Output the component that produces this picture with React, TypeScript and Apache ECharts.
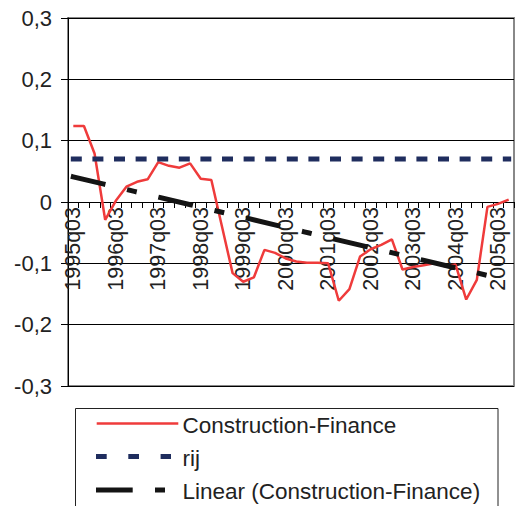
import React, { useEffect, useRef } from "react";
import * as echarts from "echarts";

const categories: string[] = [
  "1995q03", "1995q04",
  "1996q01", "1996q02", "1996q03", "1996q04",
  "1997q01", "1997q02", "1997q03", "1997q04",
  "1998q01", "1998q02", "1998q03", "1998q04",
  "1999q01", "1999q02", "1999q03", "1999q04",
  "2000q01", "2000q02", "2000q03", "2000q04",
  "2001q01", "2001q02", "2001q03", "2001q04",
  "2002q01", "2002q02", "2002q03", "2002q04",
  "2003q01", "2003q02", "2003q03", "2003q04",
  "2004q01", "2004q02", "2004q03", "2004q04",
  "2005q01", "2005q02", "2005q03", "2005q04",
];

const constructionFinance: number[] = [
  0.124, 0.124, 0.079, -0.029, 0.002, 0.025, 0.033, 0.037, 0.065, 0.059,
  0.056, 0.063, 0.038, 0.036, -0.040, -0.116, -0.130, -0.123, -0.078, -0.083,
  -0.092, -0.097, -0.099, -0.099, -0.100, -0.161, -0.142, -0.089, -0.077, -0.070,
  -0.061, -0.110, -0.106, -0.103, -0.100, -0.105, -0.102, -0.159, -0.127, -0.008,
  -0.003, 0.004,
];

const rij: number[] = [
  0.07, 0.07, 0.07, 0.07, 0.07, 0.07, 0.07, 0.07, 0.07, 0.07,
  0.07, 0.07, 0.07, 0.07, 0.07, 0.07, 0.07, 0.07, 0.07, 0.07,
  0.07, 0.07, 0.07, 0.07, 0.07, 0.07, 0.07, 0.07, 0.07, 0.07,
  0.07, 0.07, 0.07, 0.07, 0.07, 0.07, 0.07, 0.07, 0.07, 0.07,
  0.07, 0.07,
];

// Linear trend: value at first and last category
const trendIndex: number[] = [0, 41];
const trendValue: number[] = [0.041, -0.128];

const seriesNames: string[] = [
  "Construction-Finance",
  "rij",
  "Linear (Construction-Finance)",
];

const FONT = 'Arial, "Liberation Sans", sans-serif';
const RED = "#ef3b3b";
const NAVY = "#1f2d5e";
const BLACK = "#141414";

const GRID_TOP = 18;
const GRID_HEIGHT = 368;

export default function App() {
  const ref = useRef<HTMLDivElement>(null);

  useEffect(() => {
    if (!ref.current) return;
    const chart = echarts.init(ref.current, undefined, { renderer: "svg" });

    const legendRows = [423.5, 456.5, 490];
    const textStyle = (t: string, y: number) => ({
      type: "text",
      silent: true,
      style: {
        text: t,
        x: 182.5,
        y: y + 1.5,
        fill: "#222",
        font: `22.5px ${FONT}`,
        fontSize: 22.5,
        fontFamily: FONT,
        align: "left",
        verticalAlign: "middle",
        textAlign: "left",
        textVerticalAlign: "middle",
      },
    });

    chart.setOption({
      animation: false,
      backgroundColor: "#ffffff",
      grid: {
        left: 68,
        right: 2,
        top: GRID_TOP,
        height: GRID_HEIGHT,
        show: true,
        borderColor: "#888888",
        borderWidth: 2,
        backgroundColor: "transparent",
      },
      xAxis: {
        type: "category",
        data: categories,
        boundaryGap: true,
        position: "bottom",
        offset: -GRID_HEIGHT / 2,
        axisLine: { onZero: false, lineStyle: { color: "#000", width: 1 } },
        axisTick: {
          show: true,
          interval: 0,
          length: 6,
          inside: false,
          lineStyle: { color: "#000", width: 1 },
        },
        axisLabel: {
          interval: 3,
          rotate: 90,
          margin: 5,
          color: "#222",
          fontSize: 21.5,
          fontFamily: FONT,
        },
        splitLine: { show: false },
      },
      yAxis: {
        type: "value",
        min: -0.3,
        max: 0.3,
        interval: 0.1,
        axisLine: { show: true, lineStyle: { color: "#000", width: 1 } },
        axisTick: {
          show: true,
          length: 7,
          inside: false,
          lineStyle: { color: "#000", width: 1 },
        },
        axisLabel: {
          margin: 16,
          color: "#222",
          fontSize: 22,
          fontFamily: FONT,
          formatter: (v: number) => {
            const r = Math.round(v * 10) / 10;
            if (r === 0) return "0";
            return r.toFixed(1).replace(".", ",");
          },
        },
        splitLine: { show: true, lineStyle: { color: "#000", width: 1 } },
      },
      series: [
        {
          name: seriesNames[0],
          type: "line",
          data: constructionFinance,
          symbol: "none",
          lineStyle: { color: RED, width: 2.5 },
          itemStyle: { color: RED },
          z: 2,
        },
        {
          name: seriesNames[1],
          type: "line",
          data: rij,
          symbol: "none",
          lineStyle: { color: NAVY, width: 5, type: [6, 15.6], cap: "square" },
          itemStyle: { color: NAVY },
          z: 3,
        },
        {
          name: seriesNames[2],
          type: "line",
          data: trendIndex.map((i, k) => [i, trendValue[k]]),
          symbol: "none",
          lineStyle: {
            color: BLACK,
            width: 5,
            type: [30.5, 27.2, 5, 27.2],
            cap: "square",
          },
          itemStyle: { color: BLACK },
          z: 4,
        },
      ],
      graphic: [
        {
          type: "rect",
          silent: true,
          shape: { x: 75.5, y: 408.5, width: 422.5, height: 130 },
          style: { fill: "#fff", stroke: "#222", lineWidth: 1 },
        },
        {
          type: "line",
          silent: true,
          shape: { x1: 96.7, y1: legendRows[0], x2: 178.3, y2: legendRows[0] },
          style: { stroke: RED, lineWidth: 2.5 },
        },
        {
          type: "line",
          silent: true,
          shape: { x1: 98.5, y1: legendRows[1], x2: 168.5, y2: legendRows[1] },
          style: { stroke: NAVY, lineWidth: 5, lineDash: [5.7, 26.6], lineCap: "square" },
        },
        {
          type: "line",
          silent: true,
          shape: { x1: 98.5, y1: legendRows[2], x2: 163.5, y2: legendRows[2] },
          style: { stroke: BLACK, lineWidth: 5, lineDash: [31.7, 27.3, 5, 100], lineCap: "square" },
        },
        textStyle(seriesNames[0], legendRows[0]),
        textStyle(seriesNames[1], legendRows[1]),
        textStyle(seriesNames[2], legendRows[2]),
      ],
    });

    return () => {
      chart.dispose();
    };
  }, []);

  return (
    <div
      ref={ref}
      style={{ position: "fixed", left: 0, top: 0, width: 516, height: 506 }}
    />
  );
}
